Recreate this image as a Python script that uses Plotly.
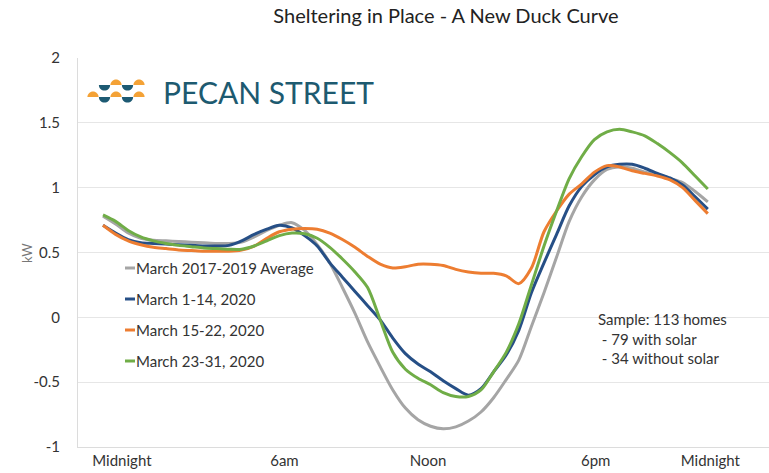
import plotly.graph_objects as go

# ---------------- data ----------------
hours = [0, 0.5, 1, 1.5, 2, 2.5, 3, 3.5, 4, 4.5, 5, 5.5, 6, 6.5, 7, 7.5, 8, 8.5,
         9, 9.5, 10, 10.5, 11, 11.5, 12, 12.5, 13, 13.5, 14, 14.5, 15, 15.5, 16,
         16.5, 17, 17.5, 18, 18.5, 19, 19.5, 20, 20.5, 21, 21.5, 22, 22.5, 23,
         23.5, 24]

avg_2017_2019 = [0.78, 0.72, 0.65, 0.61, 0.595, 0.59, 0.585, 0.58, 0.575, 0.57,
                 0.57, 0.58, 0.62, 0.67, 0.71, 0.73, 0.67, 0.56, 0.42, 0.23,
                 0.03, -0.19, -0.38, -0.56, -0.70, -0.79, -0.84, -0.86, -0.845,
                 -0.80, -0.73, -0.62, -0.48, -0.33, -0.07, 0.19, 0.465, 0.74,
                 0.93, 1.06, 1.14, 1.16, 1.15, 1.12, 1.10, 1.07, 1.04, 0.97, 0.89]

mar_1_14 = [0.71, 0.65, 0.60, 0.575, 0.57, 0.565, 0.56, 0.555, 0.55, 0.55,
            0.555, 0.59, 0.64, 0.68, 0.71, 0.69, 0.63, 0.55, 0.42, 0.31,
            0.20, 0.09, -0.02, -0.16, -0.28, -0.36, -0.42, -0.49, -0.55,
            -0.60, -0.55, -0.42, -0.29, -0.10, 0.19, 0.42, 0.64, 0.86,
            1.01, 1.10, 1.16, 1.18, 1.18, 1.15, 1.11, 1.075, 1.02, 0.93, 0.835]

mar_15_22 = [0.71, 0.64, 0.59, 0.56, 0.54, 0.53, 0.52, 0.515, 0.51, 0.51,
             0.51, 0.52, 0.55, 0.61, 0.66, 0.68, 0.685, 0.68, 0.65, 0.60,
             0.54, 0.47, 0.41, 0.38, 0.39, 0.41, 0.41, 0.40, 0.37, 0.35,
             0.34, 0.34, 0.32, 0.26, 0.38, 0.66, 0.82, 0.95, 1.03, 1.12,
             1.17, 1.16, 1.13, 1.11, 1.09, 1.06, 1.00, 0.90, 0.80]

mar_23_31 = [0.79, 0.74, 0.67, 0.62, 0.59, 0.57, 0.555, 0.545, 0.535, 0.53,
             0.525, 0.525, 0.55, 0.59, 0.63, 0.65, 0.645, 0.61, 0.54, 0.45,
             0.35, 0.23, -0.02, -0.27, -0.40, -0.47, -0.52, -0.58, -0.61,
             -0.61, -0.56, -0.42, -0.27, -0.05, 0.25, 0.55, 0.82, 1.07,
             1.24, 1.37, 1.43, 1.45, 1.43, 1.40, 1.34, 1.27, 1.19, 1.09, 0.99]

series_names = ["March 2017-2019 Average", "March 1-14, 2020",
                "March 15-22, 2020", "March 23-31, 2020"]
series_values = [avg_2017_2019, mar_1_14, mar_15_22, mar_23_31]
series_colors = ["#a5a5a5", "#264f86", "#ed7d31", "#70ad47"]

x_tick_pos = [0.75, 7.2, 12.9, 19.55, 24.1]
x_tick_text = ["Midnight", "6am", "Noon", "6pm", "Midnight"]
y_tick_vals = [-1, -0.5, 0, 0.5, 1, 1.5, 2]
y_tick_text = ["-1", "-0.5", "0", "0.5", "1", "1.5", "2"]

# ---------------- layout geometry (page pixels) ----------------
W, H = 769, 473
L, R, T, B = 78, 0, 58, 473 - 447
PW, PH = W - L - R, H - T - B


def px(x):
    return (x - L) / PW


def py(y):
    return (H - B - y) / PH


FONT = "Lato, 'Open Sans', sans-serif"

fig = go.Figure()
for name, vals, col in zip(series_names, series_values, series_colors):
    fig.add_trace(go.Scatter(x=hours, y=vals, mode="lines", name=name,
                             line=dict(color=col, width=3, shape="spline",
                                       smoothing=0.8),
                             showlegend=False, hoverinfo="skip"))

shapes = []
annotations = []

# custom legend (short dash + label)
leg_y = [268, 299, 330, 361]
for name, col, yy in zip(series_names, series_colors, leg_y):
    shapes.append(dict(type="line", xref="paper", yref="paper",
                       x0=px(125), x1=px(135), y0=py(yy), y1=py(yy),
                       line=dict(color=col, width=3)))
    annotations.append(dict(text=name, xref="paper", yref="paper",
                            x=px(134), y=py(yy), xanchor="left",
                            yanchor="middle", showarrow=False,
                            font=dict(family=FONT, size=15, color="#333")))

# sample note
annotations.append(dict(
    text="Sample: 113 homes<br>\u00a0- 79 with solar<br>\u00a0- 34 without solar",
    xref="paper", yref="paper", x=px(596), y=py(308), xanchor="left",
    yanchor="top", align="left", showarrow=False,
    font=dict(family=FONT, size=15, color="#333")))

# y axis title
annotations.append(dict(text="kW", xref="paper", yref="paper", x=px(27),
                        y=py(253), textangle=-90, showarrow=False,
                        xanchor="center", yanchor="middle",
                        font=dict(family=FONT, size=13, color="#777")))

# logo text
annotations.append(dict(text="PECAN STREET", xref="paper", yref="paper",
                        x=px(161), y=py(92), xanchor="left", yanchor="middle",
                        showarrow=False,
                        font=dict(family=FONT, size=30, color="#1d5a70")))

# logo icon: domes (orange) and bowls (teal)
K = 0.5523


def half_disc(cx, by, r, up):
    s = -1 if up else 1
    pts = [(cx - r, by), (cx - r, by + s * K * r), (cx - K * r, by + s * r),
           (cx, by + s * r), (cx + K * r, by + s * r), (cx + r, by + s * K * r),
           (cx + r, by)]
    p = [(px(a), py(b)) for a, b in pts]
    return ("M{:.5f},{:.5f} C{:.5f},{:.5f} {:.5f},{:.5f} {:.5f},{:.5f} "
            "C{:.5f},{:.5f} {:.5f},{:.5f} {:.5f},{:.5f} Z").format(
        *[c for pt in p for c in pt])


logo_rows = [
    (85, [("b", 104.5), ("d", 116), ("b", 127.5), ("d", 139)]),
    (97, [("d", 93), ("b", 104.5), ("d", 116), ("b", 127.5), ("d", 139)]),
]
for by, items in logo_rows:
    for kind, cx in items:
        col = "#f4a236" if kind == "d" else "#1d5a73"
        shapes.append(dict(type="path", xref="paper", yref="paper",
                           path=half_disc(cx, by, 5.6, kind == "d"),
                           fillcolor=col, line=dict(width=0)))

fig.update_layout(
    width=W, height=H,
    margin=dict(l=L, r=R, t=T, b=B),
    paper_bgcolor="white", plot_bgcolor="white",
    hovermode=False,
    title=dict(text="Sheltering in Place - A New Duck Curve",
               x=446 / W, xanchor="center", xref="container",
               y=1 - 16 / H, yanchor="middle", yref="container",
               font=dict(family=FONT, size=20, color="#222")),
    shapes=shapes, annotations=annotations,
    xaxis=dict(range=[(78 - 103) / 25.2, (769 - 103) / 25.2],
               tickvals=x_tick_pos, ticktext=x_tick_text, showgrid=False,
               zeroline=False, showline=True, linecolor="#dcdcdc",
               linewidth=1, ticks="", automargin=False, fixedrange=True,
               tickfont=dict(family=FONT, size=15, color="#333")),
    yaxis=dict(range=[-1, 2], tickvals=y_tick_vals, ticktext=y_tick_text,
               showgrid=True, gridcolor="#e6e6e6", gridwidth=1,
               zeroline=False, showline=True, linecolor="#dcdcdc",
               linewidth=1, ticks="", ticklabelstandoff=14, automargin=False,
               fixedrange=True,
               tickfont=dict(family=FONT, size=15, color="#333")),
)

fig.write_html("out.html",
               config={"displayModeBar": False},
               post_script="document.body.style.margin='0';"
                           "document.body.style.overflow='hidden';")
